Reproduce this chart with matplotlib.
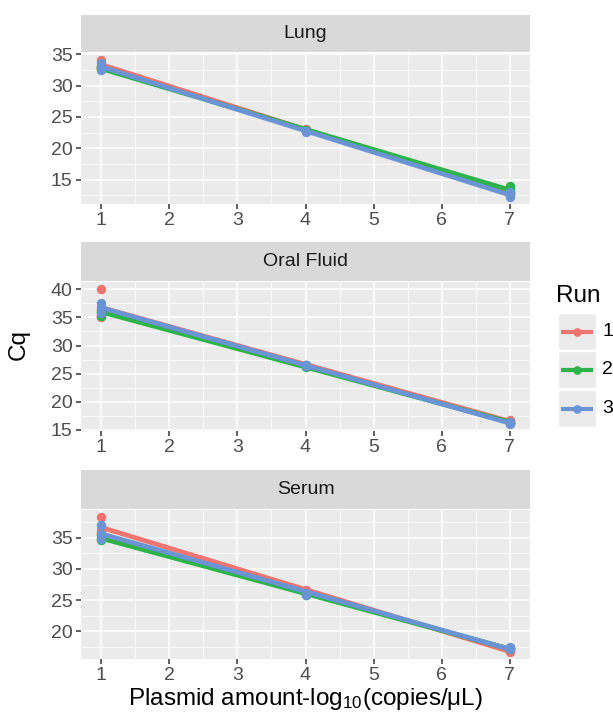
import numpy as np
import matplotlib
matplotlib.use("Agg")
from matplotlib import pyplot as plt
from matplotlib.ticker import MultipleLocator
from matplotlib.patches import Rectangle
from matplotlib.lines import Line2D

plt.rcParams['font.family'] = ['Liberation Sans', 'DejaVu Sans']
plt.rcParams['mathtext.fontset'] = 'custom'
plt.rcParams['mathtext.rm'] = 'Liberation Sans'
plt.rcParams['mathtext.it'] = 'Liberation Sans'

# dilution levels, three replicates each
x_levels = [1, 4, 7]
runs = ['1', '2', '3']
tissues = ['Lung', 'Oral Fluid', 'Serum']

# Cq values per run: 3 reps at x=1, then x=4, then x=7
lung_run1 = [34.1, 33.2, 32.9, 23.0, 22.9, 22.8, 12.9, 12.7, 12.5]
lung_run2 = [32.6, 32.8, 33.0, 22.9, 22.8, 22.7, 13.0, 13.5, 13.9]
lung_run3 = [32.5, 33.0, 33.6, 22.6, 22.7, 22.8, 12.2, 12.6, 13.0]

oral_run1 = [40.1, 35.3, 35.1, 26.5, 26.4, 26.6, 16.7, 16.5, 16.6]
oral_run2 = [35.3, 36.0, 36.4, 26.2, 26.3, 26.4, 16.3, 16.2, 16.4]
oral_run3 = [35.8, 36.8, 37.6, 26.3, 26.5, 26.6, 16.0, 16.2, 16.4]

serum_run1 = [38.4, 36.3, 35.8, 26.2, 26.4, 26.6, 16.6, 16.9, 17.1]
serum_run2 = [34.6, 35.0, 35.4, 25.9, 25.8, 26.0, 17.1, 17.2, 17.3]
serum_run3 = [34.9, 35.7, 37.0, 25.8, 26.0, 26.1, 17.1, 17.3, 17.5]

panel_data = [
    [lung_run1, lung_run2, lung_run3],
    [oral_run1, oral_run2, oral_run3],
    [serum_run1, serum_run2, serum_run3],
]

colors = ['#F07470', '#2EB24A', '#6A94D4']
W, H = 613, 722


def px(x0, y0, x1, y1):
    # pixel box (top-left origin) -> figure fraction rect
    return [x0 / W, 1 - y1 / H, (x1 - x0) / W, (y1 - y0) / H]


fig = plt.figure(figsize=(W / 100, H / 100), dpi=100)
fig.patch.set_facecolor('white')

# (strip top, panel top, panel bottom)
boxes = [(15, 53, 204), (242, 282, 431), (470, 510, 659)]
left, right = 81, 530

xs = np.repeat(x_levels, 3)
for tissue, runs_vals, (st, pt, pb) in zip(tissues, panel_data, boxes):
    sax = fig.add_axes(px(left, st, right, pt - 1))
    sax.set_facecolor('#D9D9D9')
    sax.set_xticks([])
    sax.set_yticks([])
    for s in sax.spines.values():
        s.set_visible(False)
    sax.text(0.5, 0.5, tissue, ha='center', va='center', fontsize=14,
             color='#1A1A1A', transform=sax.transAxes)

    ax = fig.add_axes(px(left, pt, right, pb))
    ax.set_facecolor('#EBEBEB')
    for s in ax.spines.values():
        s.set_visible(False)

    allv = np.concatenate(runs_vals)
    lo, hi = allv.min(), allv.max()
    pad = (hi - lo) * 0.05
    ax.set_ylim(lo - pad, hi + pad)
    ax.set_xlim(0.7, 7.3)

    for i, vals in enumerate(runs_vals):
        vals = np.asarray(vals)
        ax.plot(xs, vals, 'o', color=colors[i], ms=6.8, mec='none', zorder=3 + i)
        k, b = np.polyfit(xs, vals, 1)
        xl = np.array([1, 7])
        ax.plot(xl, k * xl + b, '-', color=colors[i], lw=3.4,
                solid_capstyle='butt', zorder=3 + i)

    ax.xaxis.set_major_locator(MultipleLocator(1))
    ax.xaxis.set_minor_locator(MultipleLocator(0.5))
    ax.yaxis.set_major_locator(MultipleLocator(5))
    ax.yaxis.set_minor_locator(MultipleLocator(2.5))
    ax.grid(which='major', color='white', lw=1.1)
    ax.grid(which='minor', color='white', lw=0.55)
    ax.set_axisbelow(True)
    ax.tick_params(which='major', length=3.6, width=1.1, color='#333333',
                   labelsize=14, labelcolor='#4D4D4D', pad=2.5)
    ax.tick_params(which='minor', length=0)

    if tissue == 'Serum':
        ax.set_xlabel(r'Plasmid amount-log$_{10}$(copies/μL)', fontsize=17.5,
                      color='black', labelpad=1)

fig.text(19 / W, 1 - 345 / H, 'Cq', rotation=90, fontsize=17.5,
         ha='center', va='center')

# legend
fig.text(556 / W, 1 - 296 / H, 'Run', fontsize=17.5, ha='left', va='center')
lax = fig.add_axes([0, 0, 1, 1], facecolor='none')
lax.set_xlim(0, W)
lax.set_ylim(H, 0)
lax.axis('off')
key_tops = [313, 351, 390]
for i, (r, kt) in enumerate(zip(runs, key_tops)):
    lax.add_patch(Rectangle((558, kt), 38, 37, facecolor='#EBEBEB',
                            edgecolor='white', lw=1))
    cy = kt + 18.5
    lax.add_line(Line2D([561, 593], [cy, cy], color=colors[i], lw=3.0,
                        solid_capstyle='butt'))
    lax.plot([577], [cy], 'o', color=colors[i], ms=6.2, mec='none')
    lax.text(602, cy, r, fontsize=14, ha='left', va='center', color='black')

fig.savefig('out.png', dpi=100)
